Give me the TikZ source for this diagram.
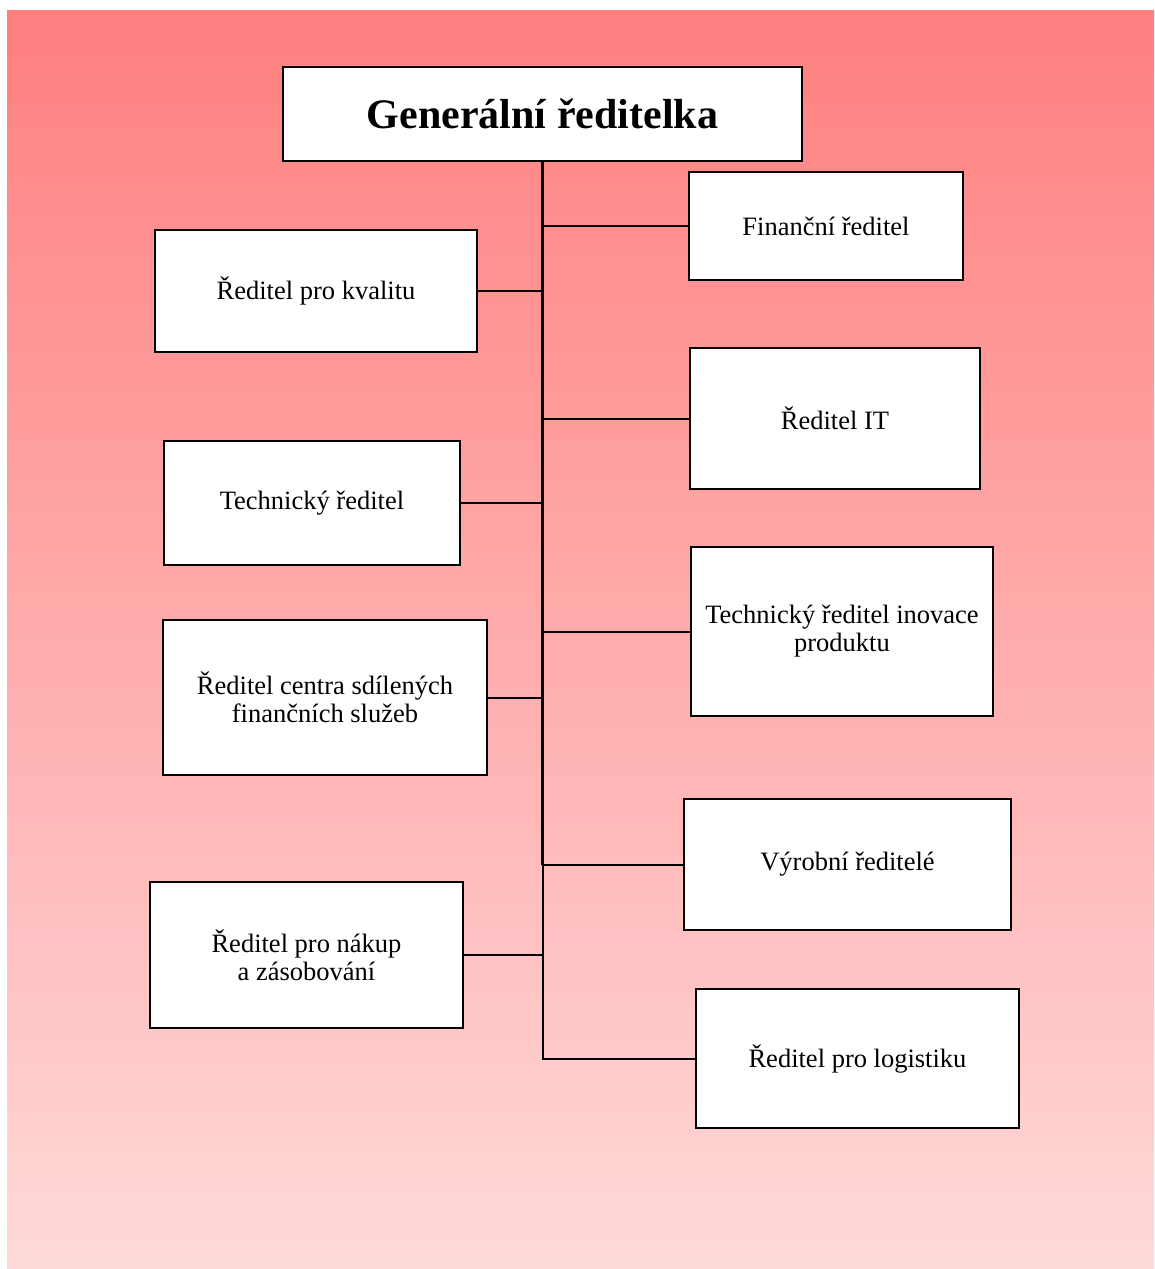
\documentclass[tikz,border=0pt]{standalone}
\usepackage{fontspec}
\setmainfont{Liberation Serif}
\usetikzlibrary{shadows}
\definecolor{bgtop}{RGB}{255,127,127}
\definecolor{bgbot}{RGB}{255,217,217}
\begin{document}
\begin{tikzpicture}[x=1pt,y=-1pt,
  orgbox/.style={draw=black, line width=2pt, fill=white, inner sep=0pt, align=center,
    font=\fontsize{26.5}{28}\selectfont,
    drop shadow={shadow xshift=1.3pt, shadow yshift=-1.3pt, opacity=0.3}},
  conn/.style={draw=black, line width=2pt},
  trunk/.style={draw=black, line width=3.5pt}]
\useasboundingbox (0,0) rectangle (1154,1269);
\fill[top color=bgtop, bottom color=bgbot] (7,10) rectangle (1154,1269);

\node[orgbox, minimum width=519, minimum height=94, font=\fontsize{42}{44}\selectfont\bfseries] (top) at (542.5,114) {Generální ředitelka};

\node[orgbox, minimum width=274, minimum height=108] (fin) at (826,226) {Finanční ředitel};
\node[orgbox, minimum width=322, minimum height=122] (kval) at (316,291) {Ředitel pro kvalitu};
\node[orgbox, minimum width=290, minimum height=141] (it) at (835,418.5) {Ředitel IT};
\node[orgbox, minimum width=296, minimum height=124] (tech) at (312,503) {Technický ředitel};
\node[orgbox, minimum width=302, minimum height=169] (inov) at (842,631.5) {Technický ředitel inovace\\produktu};
\node[orgbox, minimum width=324, minimum height=155] (centr) at (325,697.5) {Ředitel centra sdílených\\finančních služeb};
\node[orgbox, minimum width=327, minimum height=131] (vyr) at (847.5,864.5) {Výrobní ředitelé};
\node[orgbox, minimum width=313, minimum height=146] (nak) at (306.5,955) {Ředitel pro nákup\\a zásobování};
\node[orgbox, minimum width=323, minimum height=139] (log) at (857.5,1058.5) {Ředitel pro logistiku};

\coordinate (jfin) at (top.south |- fin.west);
\coordinate (jkval) at (top.south |- kval.east);
\coordinate (jit) at (top.south |- it.west);
\coordinate (jtech) at (top.south |- tech.east);
\coordinate (jinov) at (top.south |- inov.west);
\coordinate (jcentr) at (top.south |- centr.east);
\coordinate (jvyr) at (top.south |- vyr.west);
\coordinate (jnak) at (top.south |- nak.east);
\coordinate (jlog) at (top.south |- log.west);

\draw[conn] (jfin) -- (fin.west);
\draw[conn] (jkval) -- (kval.east);
\draw[conn] (jit) -- (it.west);
\draw[conn] (jtech) -- (tech.east);
\draw[conn] (jinov) -- (inov.west);
\draw[conn] (jcentr) -- (centr.east);
\draw[conn] (jvyr) -- (vyr.west);
\draw[conn] (jnak) -- (nak.east);
\draw[conn] (jvyr) -- (jlog) -- (log.west);
\draw[trunk] (top.south) -- (jvyr);
\end{tikzpicture}
\end{document}
